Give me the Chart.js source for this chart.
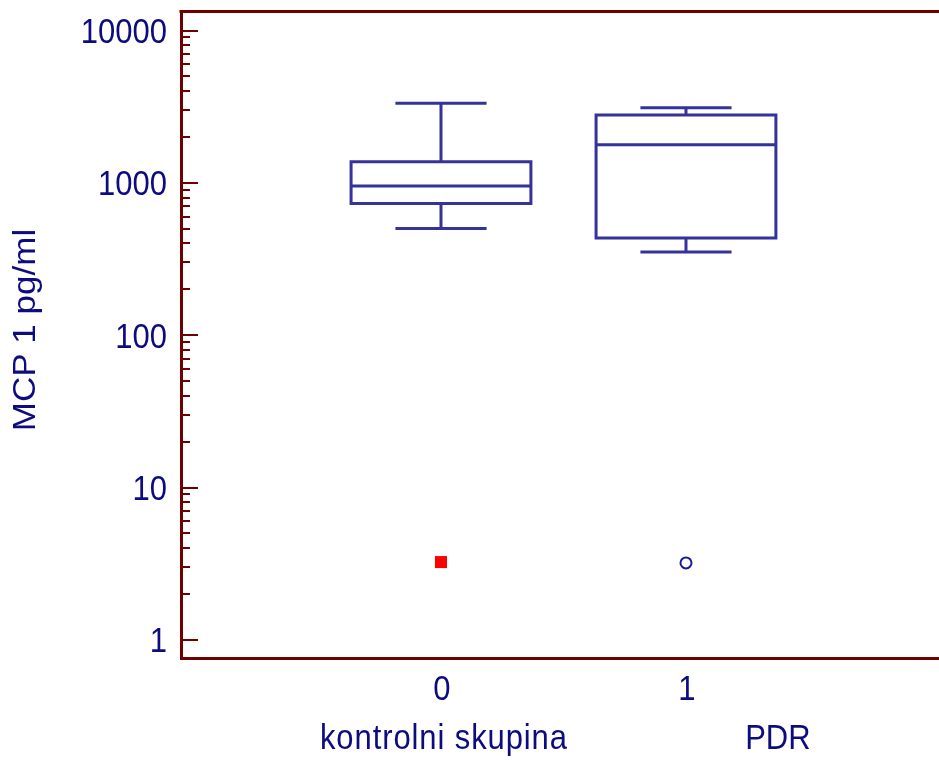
<!DOCTYPE html>
<html>
<head>
<meta charset="utf-8">
<title>MCP 1 pg/ml</title>
<style>
  html, body { margin: 0; padding: 0; background: #ffffff; }
  #wrap { width: 939px; height: 760px; position: relative; }
</style>
<script src="https://cdn.jsdelivr.net/npm/chart.js@4/dist/chart.umd.min.js"></script>
</head>
<body>
<div id="wrap"><canvas id="chart"></canvas></div>
<script>
// Groups on the x axis
const groupNames = ['kontrolni skupina', 'PDR'];
const groupCodes = [0, 1];

// Box-and-whisker summary per group (pg/ml)
const whiskerLow  = [501, 352];
const quartile1   = [732, 435];
const median      = [955, 1778];
const quartile3   = [1374, 2786];
const whiskerHigh = [3327, 3112];

// Outlying values per group
const outlierControl = [3.24];
const outlierPDR = [3.2];

// Labelled decades on the y axis
const yTickValues = [1, 10, 100, 1000, 10000];
const yTitle = 'MCP 1 pg/ml';

// Styling
const AXIS_COLOR = '#700000';
const TEXT_COLOR = '#0c0c80';
const BOX_COLOR = '#333399';
const FONT = '31px "Liberation Sans", Arial, sans-serif';
const TEXT_STRETCH = 1.13;      // tall, narrow lettering
const BOX_HALF = 0.367;         // half box width, x-axis units
const CAP_HALF = 0.186;         // half whisker-cap width, x-axis units
const NAME_POS = [0.012, 1.375]; // where the group names sit, x-axis units

function boxPath(i) {
  const c = groupCodes[i];
  const gap = { x: c, y: null };
  return [
    { x: c, y: quartile1[i] }, { x: c + BOX_HALF, y: quartile1[i] },
    { x: c + BOX_HALF, y: quartile3[i] }, { x: c - BOX_HALF, y: quartile3[i] },
    { x: c - BOX_HALF, y: quartile1[i] }, { x: c, y: quartile1[i] }, gap,
    { x: c - BOX_HALF, y: median[i] }, { x: c + BOX_HALF, y: median[i] }, gap,
    { x: c, y: quartile3[i] }, { x: c, y: whiskerHigh[i] }, gap,
    { x: c - CAP_HALF, y: whiskerHigh[i] }, { x: c + CAP_HALF, y: whiskerHigh[i] }, gap,
    { x: c, y: quartile1[i] }, { x: c, y: whiskerLow[i] }, gap,
    { x: c - CAP_HALF, y: whiskerLow[i] }, { x: c + CAP_HALF, y: whiskerLow[i] }
  ];
}

const boxDatasets = groupCodes.map((c, i) => ({
  label: groupNames[i],
  data: boxPath(i),
  showLine: true,
  spanGaps: false,
  borderColor: BOX_COLOR,
  borderWidth: 3,
  borderJoinStyle: 'miter',
  borderCapStyle: 'butt',
  pointRadius: 0,
  tension: 0,
  fill: false
}));

// Draws one stretched text run with its baseline at (x, y)
function stretchedText(ctx, text, x, y, align, rotate, spacing) {
  ctx.save();
  ctx.translate(x, y);
  if (rotate) ctx.rotate(-Math.PI / 2);
  ctx.scale(rotate ? TEXT_STRETCH : 1, rotate ? 1 : TEXT_STRETCH);
  ctx.textAlign = align;
  ctx.textBaseline = 'alphabetic';
  if (spacing && 'letterSpacing' in ctx) ctx.letterSpacing = spacing;
  ctx.fillText(text, 0, 0);
  ctx.restore();
}

// Inward tick marks, the top frame line and all axis lettering
const frameAndLabels = {
  id: 'frameAndLabels',
  afterDraw(chart) {
    const { ctx, chartArea, scales } = chart;
    const y = scales.y, x = scales.x;
    ctx.save();
    ctx.strokeStyle = AXIS_COLOR;
    ctx.lineWidth = 2;
    for (let d = 1; d <= 10000; d *= 10) {
      for (let m = 1; m <= 9; m++) {
        const v = d * m;
        if (v < y.min || v > y.max) continue;
        const py = Math.round(y.getPixelForValue(v));
        const len = m === 1 ? 17 : 9;
        ctx.beginPath();
        ctx.moveTo(chartArea.left, py);
        ctx.lineTo(chartArea.left + len, py);
        ctx.stroke();
      }
    }
    // top frame line
    ctx.lineWidth = 3;
    ctx.beginPath();
    ctx.moveTo(chartArea.left - 1.5, chartArea.top + 0.5);
    ctx.lineTo(chart.width, chartArea.top + 0.5);
    ctx.stroke();

    ctx.fillStyle = TEXT_COLOR;
    ctx.font = FONT;
    // y tick labels
    yTickValues.forEach(v => {
      stretchedText(ctx, String(v), chartArea.left - 14, y.getPixelForValue(v) + 12.5, 'right', false);
    });
    // x tick labels
    groupCodes.forEach(c => {
      stretchedText(ctx, String(c), x.getPixelForValue(c) + 1, 700, 'center', false);
    });
    // group names
    groupNames.forEach((name, i) => {
      stretchedText(ctx, name, x.getPixelForValue(NAME_POS[i]), 749, 'center', false, i === 0 ? '0.9px' : '0px');
    });
    // y title
    stretchedText(ctx, yTitle, 35, 330, 'center', true);
    ctx.restore();
  }
};

new Chart(document.getElementById('chart'), {
  type: 'scatter',
  data: {
    datasets: [
      ...boxDatasets,
      {
        label: 'outlier kontrolni skupina',
        data: outlierControl.map(v => ({ x: groupCodes[0], y: v })),
        pointStyle: 'rect',
        pointRadius: 8.5,
        backgroundColor: '#ff0000',
        borderColor: '#ff0000',
        borderWidth: 0
      },
      {
        label: 'outlier PDR',
        data: outlierPDR.map(v => ({ x: groupCodes[1], y: v })),
        pointStyle: 'circle',
        pointRadius: 5.5,
        backgroundColor: '#ffffff',
        borderColor: '#1a1a99',
        borderWidth: 2
      }
    ]
  },
  options: {
    responsive: true,
    maintainAspectRatio: false,
    animation: false,
    events: [],
    layout: { autoPadding: false, padding: { top: 11, right: 0, left: 0, bottom: 0 } },
    plugins: { legend: { display: false }, tooltip: { enabled: false } },
    scales: {
      x: {
        type: 'linear',
        min: -1.0612,
        max: 2.0327,
        afterBuildTicks: s => { s.ticks = groupCodes.map(v => ({ value: v })); },
        afterFit: s => { s.height = 102; s.paddingLeft = 0; s.paddingRight = 0; },
        grid: { display: false, drawTicks: false },
        border: { display: true, color: AXIS_COLOR, width: 3 },
        ticks: { display: false }
      },
      y: {
        type: 'logarithmic',
        min: 0.76,
        max: 13430,
        afterBuildTicks: s => { s.ticks = yTickValues.map(v => ({ value: v, major: true })); },
        afterFit: s => { s.width = 181; s.paddingTop = 0; s.paddingBottom = 0; },
        grid: { display: false, drawTicks: false },
        border: { display: true, color: AXIS_COLOR, width: 3 },
        ticks: { display: false }
      }
    }
  },
  plugins: [frameAndLabels]
});
</script>
</body>
</html>
